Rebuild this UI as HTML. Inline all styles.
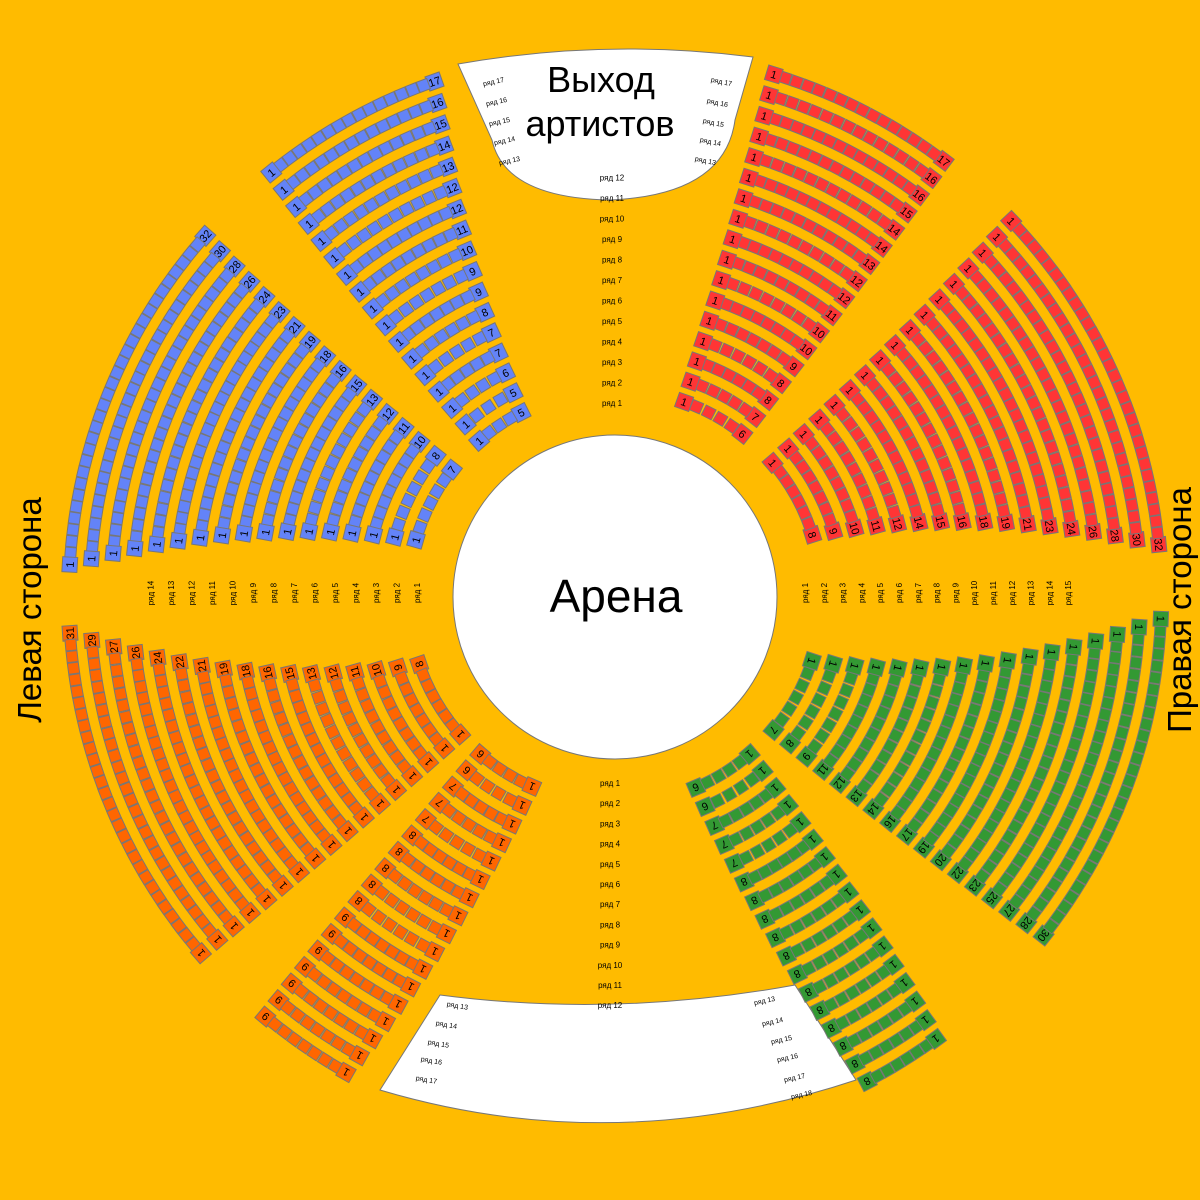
<!DOCTYPE html>
<html><head><meta charset="utf-8"><style>
html,body{margin:0;padding:0;background:#FFBB00;}
svg{display:block}
text{font-family:"Liberation Sans",sans-serif;}
</style></head><body>
<svg id="s" width="1200" height="1200" viewBox="0 0 1200 1200" xmlns="http://www.w3.org/2000/svg">
<rect width="1200" height="1200" fill="#FFBB00"/>
<circle cx="615" cy="597" r="162" fill="#fff" stroke="#777" stroke-width="1"/>
<path d="M458,64 Q605,38 753,57 L735,120 Q725,195 610,200 Q505,198 492,140 Z" fill="#fff" stroke="#777" stroke-width="1"/>
<path d="M440,995 Q615,1018 795,985 L856,1080 Q615,1160 380,1090 Z" fill="#fff" stroke="#777" stroke-width="1"/>
<text x="616" y="612" font-size="46" text-anchor="middle">Арена</text>
<text x="601" y="92" font-size="36" text-anchor="middle">Выход</text>
<text x="600" y="136" font-size="36" text-anchor="middle">артистов</text>
<text transform="translate(41,610) rotate(-90)" font-size="33" text-anchor="middle">Левая сторона</text>
<text transform="translate(1191,610) rotate(-90)" font-size="33" text-anchor="middle">Правая сторона</text>
<g id="g"></g>
</svg>
<script>
var g=document.getElementById('g'),NS='http://www.w3.org/2000/svg';
var cx=615,cy=597;
function el(t,a,p){var e=document.createElementNS(NS,t);for(var k in a)e.setAttribute(k,a[k]);(p||g).appendChild(e);return e;}
var blocks=[
{c:'#6383F8',lo:[142,138.6],hi:[164,176.6]},
{c:'#6383F8',lo:[117,109.3],hi:[131,129]},
{c:'#FF3535',lo:[52,53],hi:[70.5,73.1]},
{c:'#FF3535',lo:[17.5,5.5],hi:[40.4,43.5]},
{c:'#FF6600',lo:[198.9,183.8],hi:[221.6,220.7]},
{c:'#FF6600',lo:[229.4,230.2],hi:[246.3,240.5]},
{c:'#339933',lo:[293,297.5],hi:[310.6,306]},
{c:'#339933',lo:[320,321.7],hi:[342,357.7]}
];
blocks.forEach(function(b){
 for(var i=0;i<17;i++){
  var t=i/16,r=207+i*21.2;
  var lo=b.lo[0]+(b.lo[1]-b.lo[0])*t, hi=b.hi[0]+(b.hi[1]-b.hi[0])*t;
  var L=(hi-lo)*Math.PI/180*r, n=Math.max(1,Math.floor(L/11.5)), st=(hi-lo)/n;
  for(var k=0;k<=n;k++){
   var a=lo+k*st, ar=a*Math.PI/180, x=cx+r*Math.cos(ar), y=cy-r*Math.sin(ar);
   var end=(k==0||k==n), s=end?15:11;
   var gg=el('g',{transform:'translate('+x.toFixed(1)+','+y.toFixed(1)+') rotate('+(90-a).toFixed(1)+')'});
   el('rect',{x:-s/2,y:-s/2,width:s,height:s,fill:b.c,stroke:'#777','stroke-width':1},gg);
   if(end){var tx=el('text',{x:0,y:4,'font-size':11,'text-anchor':'middle'},gg);tx.textContent=(k==0?String(n+1):'1');}
  }
 }
});
function lab(x,y,rot,txt,fs){var e=el('text',{transform:'translate('+x+','+y+') rotate('+rot+')','font-size':fs||8,'text-anchor':'middle'});e.textContent=txt;}
for(var i=0;i<12;i++){lab(612,406-i*20.5,0,'ряд '+(i+1));lab(610,786+i*20.2,0,'ряд '+(i+1));}
for(var i=0;i<14;i++){lab(420-i*20.5,593,-90,'ряд '+(i+1));}
for(var i=0;i<15;i++){lab(808+i*18.8,593,-90,'ряд '+(i+1));}
var tl=[[510,163,13],[505,143,14],[500,124,15],[497,104,16],[494,84,17]];
tl.forEach(function(p){lab(p[0],p[1],-12,'ряд '+p[2],7);});
var tr=[[705,163,13],[710,144,14],[713,125,15],[717,105,16],[721,84,17]];
tr.forEach(function(p){lab(p[0],p[1],12,'ряд '+p[2],7);});
var bl=[[457,1008,13],[446,1027,14],[438,1046,15],[431,1063,16],[426,1082,17]];
bl.forEach(function(p){lab(p[0],p[1],10,'ряд '+p[2],7);});
var br=[[765,1003,13],[773,1024,14],[782,1042,15],[788,1060,16],[795,1080,17],[802,1097,18]];
br.forEach(function(p){lab(p[0],p[1],-12,'ряд '+p[2],7);});
</script>
</body></html>
